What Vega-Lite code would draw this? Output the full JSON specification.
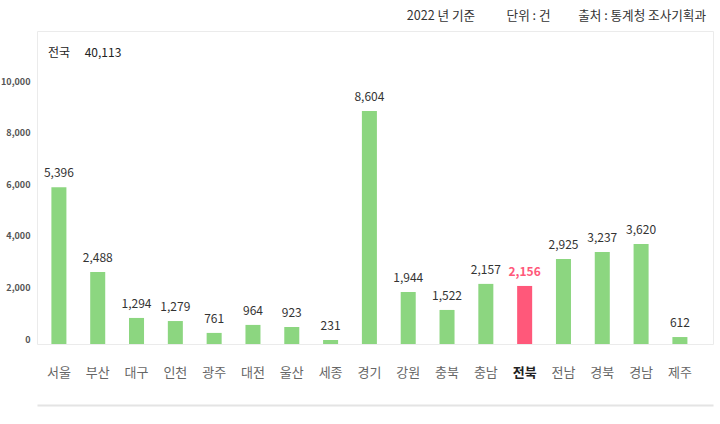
{
  "$schema": "https://vega.github.io/schema/vega-lite/v6.json",
  "autosize": "none",
  "width": 676,
  "height": 313,
  "padding": {"left": 37, "top": 31, "right": 7, "bottom": 80},
  "background": "#ffffff",
  "config": {
    "font": "Noto Sans CJK KR",
    "view": {"stroke": "#ebebeb", "fill": "#ffffff"}
  },
  "title": {
    "text": "2022 년 기준\u2003\u2003\u2002단위 : 건\u2003\u2003\u2009출처 : 통계청 조사기획과",
    "anchor": "end",
    "dx": -7,
    "offset": 8,
    "fontSize": 12.6,
    "fontWeight": "normal",
    "color": "#333333",
    "font": "Noto Sans CJK KR"
  },
  "data": {
    "values": [
      {"region": "서울", "count": 5396, "barValue": 6080},
      {"region": "부산", "count": 2488, "barValue": 2790},
      {"region": "대구", "count": 1294, "barValue": 1010},
      {"region": "인천", "count": 1279, "barValue": 890},
      {"region": "광주", "count": 761, "barValue": 430},
      {"region": "대전", "count": 964, "barValue": 740},
      {"region": "울산", "count": 923, "barValue": 660},
      {"region": "세종", "count": 231, "barValue": 155},
      {"region": "경기", "count": 8604, "barValue": 9030},
      {"region": "강원", "count": 1944, "barValue": 2015},
      {"region": "충북", "count": 1522, "barValue": 1320},
      {"region": "충남", "count": 2157, "barValue": 2330},
      {"region": "전북", "count": 2156, "barValue": 2250},
      {"region": "전남", "count": 2925, "barValue": 3295},
      {"region": "경북", "count": 3237, "barValue": 3565},
      {"region": "경남", "count": 3620, "barValue": 3875},
      {"region": "제주", "count": 612, "barValue": 270}
    ]
  },
  "encoding": {
    "x": {
      "field": "region",
      "type": "nominal",
      "sort": null,
      "scale": {"paddingInner": 0.613, "paddingOuter": 0.515, "align": 0.36},
      "axis": {
        "title": null,
        "orient": "bottom",
        "offset": 61,
        "domain": true,
        "domainColor": "#e4e4e4",
        "domainWidth": 2,
        "ticks": false,
        "grid": false,
        "labelAngle": 0,
        "labelPadding": -33,
        "labelBaseline": "middle",
        "labelFontSize": 13,
        "labelFont": "Noto Sans CJK KR",
        "labelColor": {"condition": {"test": "datum.value === '전북'", "value": "#222222"}, "value": "#666666"},
        "labelFontWeight": {"condition": {"test": "datum.value === '전북'", "value": "bold"}, "value": "normal"}
      }
    },
    "y": {
      "field": "barValue",
      "type": "quantitative",
      "scale": {"domain": [0, 12132], "nice": false},
      "axis": {
        "title": null,
        "values": [0, 2000, 4000, 6000, 8000, 10000],
        "domain": false,
        "ticks": false,
        "grid": false,
        "labelPadding": 7,
        "labelFontSize": 9,
        "labelFontWeight": "bold",
        "labelColor": "#555555",
        "labelBaseline": "bottom",
        "format": ",d"
      }
    }
  },
  "layer": [
    {
      "mark": {"type": "bar"},
      "encoding": {
        "color": {
          "condition": {"test": "datum.region === '전북'", "value": "#ff587a"},
          "value": "#8cd680"
        }
      }
    },
    {
      "transform": [{"filter": "datum.region !== '전북'"}],
      "mark": {"type": "text", "baseline": "alphabetic", "dy": -10, "fontSize": 12, "color": "#333333"},
      "encoding": {
        "text": {"field": "count", "type": "quantitative", "format": ",d"}
      }
    },
    {
      "transform": [{"filter": "datum.region === '전북'"}],
      "mark": {"type": "text", "baseline": "alphabetic", "dy": -10, "fontSize": 12, "fontWeight": "bold", "color": "#ff587a"},
      "encoding": {
        "text": {"field": "count", "type": "quantitative", "format": ",d"}
      }
    },
    {
      "data": {"values": [{"label": "전국\u2003 40,113", "region": "서울", "level": 11280}]},
      "mark": {"type": "text", "align": "left", "baseline": "middle", "dx": -11, "fontSize": 12, "color": "#222222"},
      "encoding": {
        "x": {"field": "region", "type": "nominal"},
        "y": {"field": "level", "type": "quantitative"},
        "text": {"field": "label"}
      }
    }
  ]
}
